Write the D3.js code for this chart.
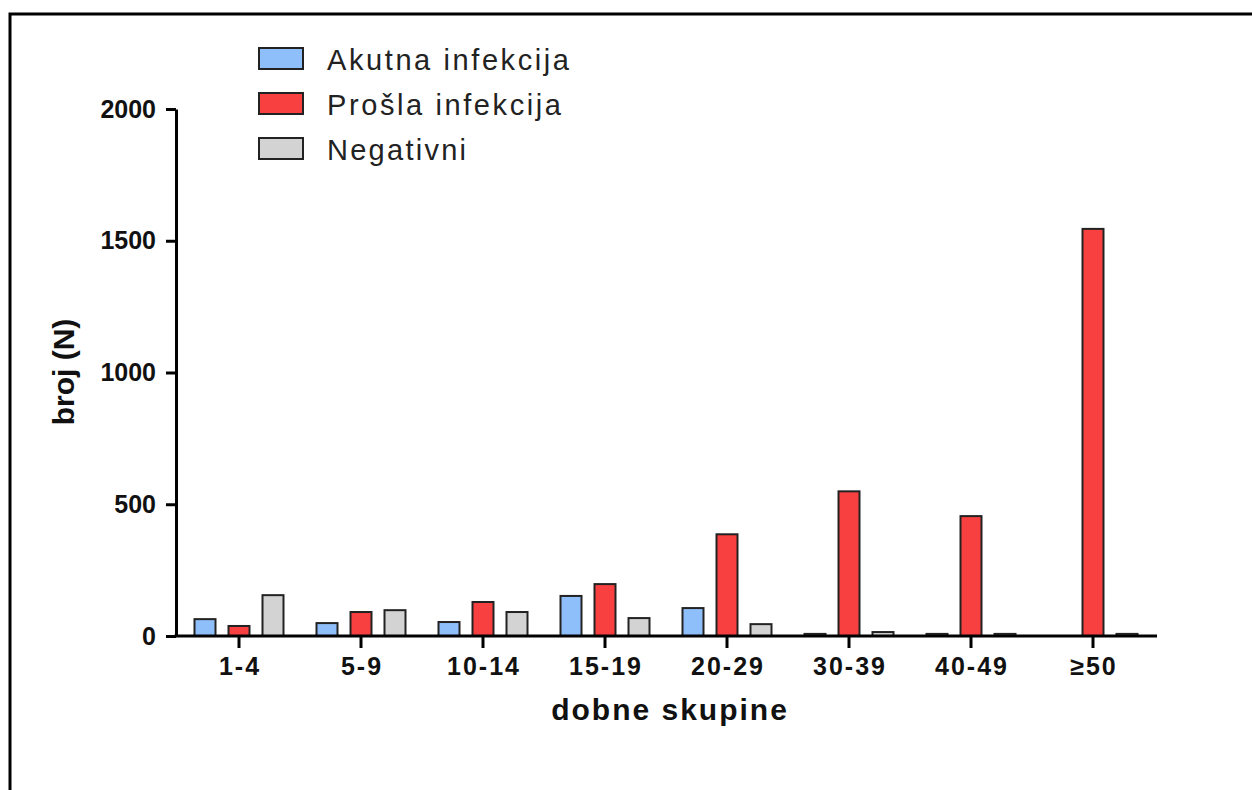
<!DOCTYPE html>
<html>
<head>
<meta charset="utf-8">
<script src="https://cdn.jsdelivr.net/npm/d3@7"></script>
<style>
  body { margin: 0; background: #fff; }
  text { font-family: "Liberation Sans", Arial, sans-serif; }
</style>
</head>
<body>
<div id="chart"></div>
<script>
var categories = ["1-4", "5-9", "10-14", "15-19", "20-29", "30-39", "40-49", "\u226550"];
var seriesNames = ["Akutna infekcija", "Prošla infekcija", "Negativni"];
var akutna = [64, 49, 53, 152, 106, 8, 8, 0];
var prosla = [38, 91, 129, 197, 386, 549, 455, 1545];
var negativni = [155, 98, 91, 68, 45, 15, 8, 8];
var yTicks = [0, 500, 1000, 1500, 2000];
var colors = ["#8fbffa", "#f94040", "#d3d3d3"];
var legendWidths = [242, 234, 139];

var W = 1252, H = 790;
var svg = d3.select("#chart").append("svg")
    .attr("width", W)
    .attr("height", H);

// frame
svg.append("path")
    .attr("d", "M10,790 L10,14 L1252,14")
    .attr("fill", "none")
    .attr("stroke", "#000")
    .attr("stroke-width", 3);

var plotLeft = 176, plotRight = 1157, plotTop = 109, plotBottom = 636;

var y = d3.scaleLinear().domain([0, 2000]).range([plotBottom, plotTop]);

// group centres
var x = d3.scalePoint()
    .domain(categories)
    .range([239, 1093]);

var series = [akutna, prosla, negativni];
var offsets = [-34, 0, 34];
var barW = 21;

series.forEach(function(vals, s) {
  svg.selectAll(".bar" + s)
    .data(vals)
    .enter()
    .append("rect")
    .attr("class", "bar" + s)
    .attr("x", function(d, i) { return x(categories[i]) + offsets[s] - barW / 2; })
    .attr("y", function(d) { return y(d); })
    .attr("width", barW)
    .attr("height", function(d) { return plotBottom - y(d); })
    .attr("fill", colors[s])
    .attr("stroke", "#222")
    .attr("stroke-width", 2)
    .style("display", function(d) { return d > 0 ? null : "none"; });
});

// y axis
var yAxis = svg.append("g")
    .attr("transform", "translate(" + plotLeft + ",0)")
    .call(d3.axisLeft(y).tickValues(yTicks).tickFormat(d3.format("d"))
      .tickSize(10).tickPadding(10).tickSizeOuter(0));
yAxis.select(".domain").attr("stroke", "#000").attr("stroke-width", 3);
yAxis.selectAll(".tick line").attr("stroke", "#000").attr("stroke-width", 3);
yAxis.selectAll(".tick text")
    .attr("fill", "#111")
    .style("font-size", "25px")
    .style("font-weight", "bold")
    .style("font-family", "'Liberation Sans', Arial, sans-serif");

// x axis
var xAxis = svg.append("g")
    .attr("transform", "translate(0," + plotBottom + ")");
xAxis.append("line")
    .attr("x1", plotLeft - 1.5).attr("x2", plotRight)
    .attr("y1", 0).attr("y2", 0)
    .attr("stroke", "#000").attr("stroke-width", 3);
xAxis.selectAll(".xt")
    .data(categories)
    .enter()
    .append("line")
    .attr("x1", function(d) { return x(d); })
    .attr("x2", function(d) { return x(d); })
    .attr("y1", 0).attr("y2", 12)
    .attr("stroke", "#000").attr("stroke-width", 3);
xAxis.selectAll(".xl")
    .data(categories)
    .enter()
    .append("text")
    .attr("x", function(d) { return x(d) + 1; })
    .attr("y", 39)
    .attr("text-anchor", "middle")
    .attr("fill", "#111")
    .style("font-size", "25px")
    .style("font-weight", "bold")
    .style("letter-spacing", "2px")
    .text(function(d) { return d; });

// axis titles
svg.append("text")
    .attr("x", 670).attr("y", 720)
    .attr("text-anchor", "middle")
    .attr("fill", "#111")
    .style("font-size", "30px")
    .style("font-weight", "bold")
    .style("letter-spacing", "2px")
    .text("dobne skupine");

svg.append("text")
    .attr("transform", "translate(74,372) rotate(-90)")
    .attr("text-anchor", "middle")
    .attr("fill", "#111")
    .style("font-size", "30px")
    .style("font-weight", "bold")
    .text("broj (N)");

// legend
var legend = svg.selectAll(".leg")
    .data(seriesNames)
    .enter()
    .append("g")
    .attr("transform", function(d, i) { return "translate(259," + (48 + i * 45) + ")"; });
legend.append("rect")
    .attr("width", 44).attr("height", 21)
    .attr("fill", function(d, i) { return colors[i]; })
    .attr("stroke", "#222")
    .attr("stroke-width", 2);
legend.append("text")
    .attr("x", 68).attr("y", 22)
    .attr("fill", "#222")
    .style("font-size", "29px")
    .attr("textLength", function(d, i) { return legendWidths[i]; })
    .attr("lengthAdjust", "spacing")
    .text(function(d) { return d; });
</script>
</body>
</html>
